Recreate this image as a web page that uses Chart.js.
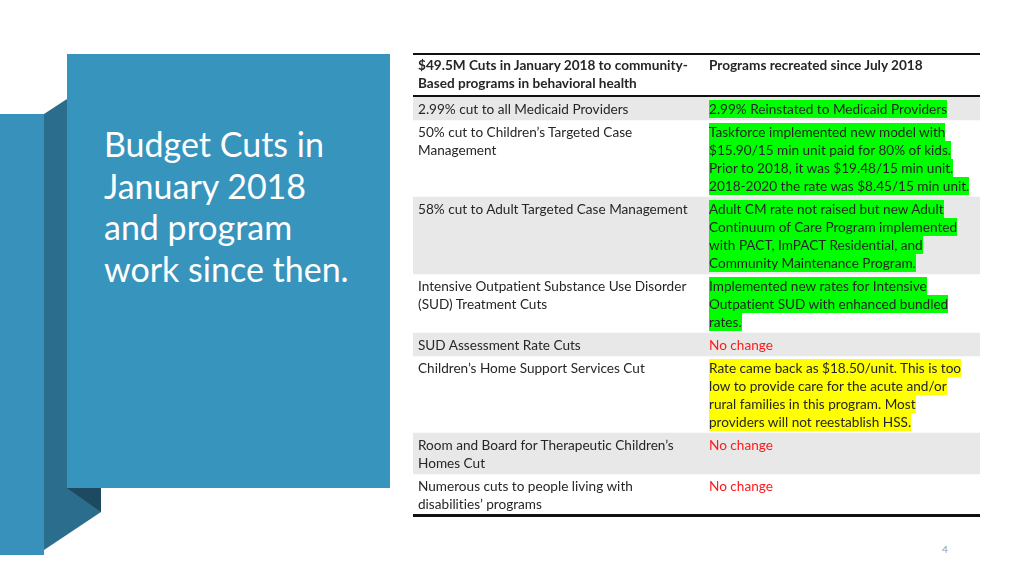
<!DOCTYPE html>
<html><head><meta charset="utf-8">
<script src="https://cdn.jsdelivr.net/npm/chart.js@4"></script>
<style>
html,body{margin:0;padding:0;background:#fff;}
body{width:1024px;height:576px;position:relative;overflow:hidden;font-family:Lato,"Open Sans",sans-serif;}
#shapes{position:absolute;left:0;top:0;}
#title{position:absolute;left:104px;top:123px;color:#fff;font-size:34px;line-height:41.5px;font-weight:400;white-space:nowrap;}
#chartWrap{position:absolute;left:413px;top:97px;width:567px;height:418px;}
#tbl{position:absolute;left:413px;top:53px;width:567px;font-size:13.6px;color:#262626;font-variant-ligatures:none;}
.row{display:flex;box-sizing:border-box;padding-top:3px;}
.c1{width:292px;padding-left:5px;box-sizing:border-box;white-space:nowrap;line-height:18px;}
.c2{padding-left:4px;white-space:nowrap;line-height:18px;}
.hdr{border-top:2.5px solid #111;border-bottom:2.5px solid #111;font-weight:700;height:44px;padding-top:1px;}
.hl{display:inline-block;height:18px;}
.g{background:#00ff00;}
.y{background:#ffff00;}
.red{color:#ff1a1a;}
#bottomRule{position:absolute;left:413px;width:567px;height:2.5px;background:#111;}
#pg{position:absolute;left:942px;top:543px;font-size:10px;color:#999;}
</style></head><body>
<svg id="shapes" width="1024" height="576">
  <polygon points="0,114 44,114 44,555 0,555" fill="#3891ba"/>
  <polygon points="44,114 67,99 67,488 44,488" fill="#2b6d8c"/>
  <polygon points="44,488 101,488 101,512 44,550" fill="#2b6d8c"/>
  <polygon points="67,488 101,488 101,512" fill="#1d4a60"/>
  <rect x="67" y="54" width="323" height="434" fill="#3794bd"/>
</svg>
<div id="title">Budget Cuts in<br>January 2018<br>and program<br>work since then.</div>
<div id="chartWrap"><canvas id="c" width="567" height="418"></canvas></div>
<div id="tbl"></div>
<div id="bottomRule"></div>
<div id="pg">4</div>
<script>
const headerLeft = ["$49.5M Cuts in January 2018 to community-", "Based programs in behavioral health"];
const headerRight = ["Programs recreated since July 2018"];
const cuts = [
  ["2.99% cut to all Medicaid Providers"],
  ["50% cut to Children’s Targeted Case", "Management"],
  ["58% cut to Adult Targeted Case Management"],
  ["Intensive Outpatient Substance Use Disorder", "(SUD) Treatment Cuts"],
  ["SUD Assessment Rate Cuts"],
  ["Children’s Home Support Services Cut"],
  ["Room and Board for Therapeutic Children’s", "Homes Cut"],
  ["Numerous cuts to people living with", "disabilities’ programs"]
];
const programs = [
  ["2.99% Reinstated to Medicaid Providers"],
  ["Taskforce implemented new model with", "$15.90/15 min unit paid for 80% of kids.", "Prior to 2018, it was $19.48/15 min unit.", "2018-2020 the rate was $8.45/15 min unit."],
  ["Adult CM rate not raised but new Adult", "Continuum of Care Program implemented", "with PACT, ImPACT Residential, and", "Community Maintenance Program."],
  ["Implemented new rates for Intensive", "Outpatient SUD with enhanced bundled", "rates."],
  ["No change"],
  ["Rate came back as $18.50/unit. This is too", "low to provide care for the acute and/or", "rural families in this program. Most", "providers will not reestablish HSS."],
  ["No change"],
  ["No change"]
];
const status = ["restored","restored","restored","restored","unchanged","partial","unchanged","unchanged"];

const LINE = 18, PAD = 5;
const lineCounts = cuts.map((c,i)=>Math.max(c.length, programs[i].length));
let acc = 0;
const extents = lineCounts.map(n=>{ const s=acc; acc += n + PAD/LINE; return [s, acc]; });
const total = acc;

const tbl = document.getElementById('tbl');
const esc = s=>s.replace(/&/g,'&amp;').replace(/</g,'&lt;');
let h = '<div class="row hdr"><div class="c1">'+headerLeft.map(esc).join('<br>')+'</div><div class="c2">'+headerRight.map(esc).join('<br>')+'</div></div>';
cuts.forEach((c,i)=>{
  const st = status[i];
  let right;
  if (st==='restored') right = programs[i].map(l=>'<span class="hl g">'+esc(l)+'</span>').join('<br>');
  else if (st==='partial') right = programs[i].map(l=>'<span class="hl y">'+esc(l)+'</span>').join('<br>');
  else right = '<span class="red">'+programs[i].map(esc).join('<br>')+'</span>';
  h += '<div class="row" style="height:'+(lineCounts[i]*LINE+PAD)+'px"><div class="c1">'+c.map(esc).join('<br>')+'</div><div class="c2">'+right+'</div></div>';
});
tbl.innerHTML = h;
document.getElementById('bottomRule').style.top = (97 + total*LINE - 1) + 'px';
document.getElementById('chartWrap').style.height = (total*LINE)+'px';
const cv = document.getElementById('c'); cv.height = Math.round(total*LINE);

new Chart(cv, {
  type: 'bar',
  data: {
    labels: ['rows'],
    datasets: extents.map((e,i)=>({
      label: 'row'+(i+1),
      data: [e],
      backgroundColor: i%2===0 ? '#e8e8e8' : 'rgba(0,0,0,0)',
      borderWidth: 0,
      barPercentage: 1,
      categoryPercentage: 1,
      grouped: false
    }))
  },
  options: {
    responsive: false,
    animation: false,
    devicePixelRatio: 1,
    layout: {padding: 0},
    plugins: {legend: {display:false}, tooltip: {enabled:false}},
    scales: {
      x: {display:false, offset:true},
      y: {display:false, min:0, max: total, reverse:true}
    }
  }
});
</script>
</body></html>
